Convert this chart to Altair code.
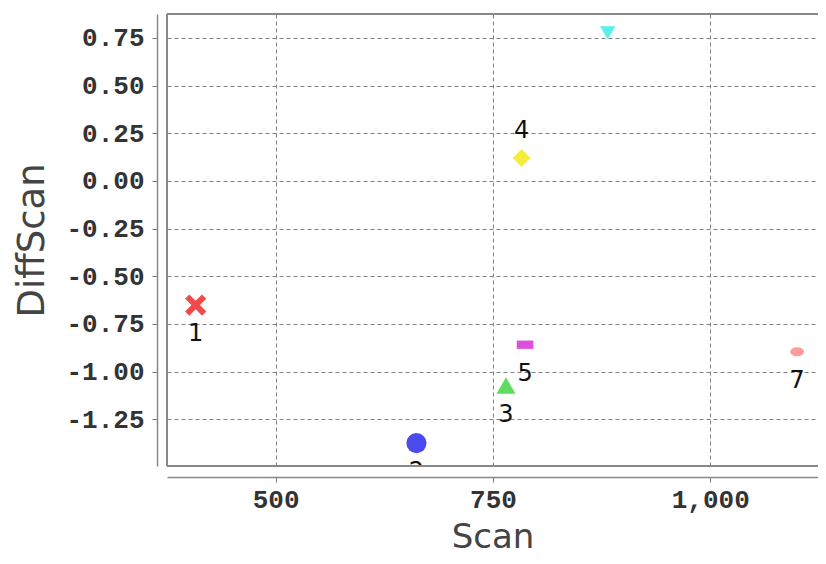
import altair as alt
import pandas as pd

# ---- data ----
labels = ["1", "2", "3", "4", "5", "6", "7"]
scan = [408, 662, 765, 783, 787, 882, 1100]
diff_scan = [-0.651, -1.375, -1.073, 0.12, -0.859, 0.776, -0.896]

x_ticks = [500, 750, 1000]
y_ticks = [0.75, 0.5, 0.25, 0.0, -0.25, -0.5, -0.75, -1.0, -1.25]

# ---- styles ----
colors = ["#f24a4a", "#4a4aee", "#5fdc5f", "#f6ec3c", "#dd4fdd", "#5aeeee", "#ff9c9c"]
x_path = "M-1,-0.6L-0.6,-1L0,-0.4L0.6,-1L1,-0.6L0.4,0L1,0.6L0.6,1L0,0.4L-0.6,1L-1,0.6L-0.4,0Z"
hrect = "M-1,-0.5H1V0.5H-1Z"
hellipse = "M-1,0A1,0.65 0 1,1 1,0A1,0.65 0 1,1 -1,0Z"
shapes = [x_path, "circle", "triangle-up", "diamond", hrect, "triangle-down", hellipse]
sizes = [450, 190, 190, 230, 340, 230, 320]
labels_above = ["4", "6"]

W, H = 651, 452

df = pd.DataFrame({"label": labels, "Scan": scan, "DiffScan": diff_scan})

x_scale = alt.Scale(domain=[375, 1124], nice=False, zero=False)
y_scale = alt.Scale(domain=[-1.495, 0.875], nice=False, zero=False)

grid_kw = dict(grid=True, gridColor="#808080", gridDash=[4, 3], gridWidth=1)

x_enc = alt.X(
    "Scan:Q", scale=x_scale,
    axis=alt.Axis(
        title="Scan", values=x_ticks, format=",d", offset=11,
        tickSize=5, tickColor="#777", domainColor="#888", domainWidth=1.5,
        labelFont="Liberation Mono", labelFontWeight="bold", labelFontSize=26,
        labelColor="#333", labelPadding=4,
        titleFont="DejaVu Sans", titleFontSize=34, titleFontWeight="normal",
        titleColor="#444", titlePadding=8, **grid_kw,
    ),
)
y_enc = alt.Y(
    "DiffScan:Q", scale=y_scale,
    axis=alt.Axis(
        title="DiffScan", values=y_ticks,
        labelExpr="replace(format(datum.value, '.2f'), '\u2212', '-')",
        offset=10, tickSize=5, tickColor="#777", domainColor="#888", domainWidth=1.5,
        labelFont="Liberation Mono", labelFontWeight="bold", labelFontSize=26,
        labelColor="#333", labelPadding=8,
        titleFont="DejaVu Sans", titleFontSize=37, titleFontWeight="normal",
        titleColor="#444", titlePadding=14, **grid_kw,
    ),
)

base = alt.Chart(df)

points = base.mark_point(filled=True, opacity=1, strokeWidth=0, clip=True).encode(
    x=x_enc,
    y=y_enc,
    color=alt.Color("label:N", scale=alt.Scale(domain=labels, range=colors), legend=None),
    shape=alt.Shape("label:N", scale=alt.Scale(domain=labels, range=shapes), legend=None),
    size=alt.Size("label:N", scale=alt.Scale(domain=labels, range=sizes), legend=None),
)

text_below = base.transform_filter(
    ~alt.FieldOneOfPredicate(field="label", oneOf=labels_above)
).mark_text(
    font="DejaVu Sans", fontSize=24, color="#111", baseline="middle", dy=29, clip=True
).encode(x=alt.X("Scan:Q", scale=x_scale), y=alt.Y("DiffScan:Q", scale=y_scale), text="label:N")

text_above = base.transform_filter(
    alt.FieldOneOfPredicate(field="label", oneOf=labels_above)
).mark_text(
    font="DejaVu Sans", fontSize=24, color="#111", baseline="middle", dy=-27, clip=True
).encode(x=alt.X("Scan:Q", scale=x_scale), y=alt.Y("DiffScan:Q", scale=y_scale), text="label:N")

# cover the right edge of the view (the reference plot continues past the picture)
right_cover = base.mark_rule(color="white", strokeWidth=4).encode(
    x=alt.value(W), y=alt.value(1), y2=alt.value(H - 1)
)

frame_style = dict(color="#888", strokeWidth=1.5)
frame_top = base.mark_rule(**frame_style).encode(x=alt.value(0), x2=alt.value(W + 10), y=alt.value(0))
frame_left = base.mark_rule(**frame_style).encode(x=alt.value(0), y=alt.value(0), y2=alt.value(H))
frame_bottom = base.mark_rule(**frame_style).encode(x=alt.value(0), x2=alt.value(W + 10), y=alt.value(H))

chart = (
    alt.layer(points, text_below, text_above, right_cover, frame_top, frame_left, frame_bottom)
    .properties(
        width=W, height=H,
        autosize=alt.AutoSizeParams(type="none"),
        padding={"left": 159, "top": 6, "right": 0, "bottom": 90},
        background="white",
    )
    .configure_view(stroke="#ffffff", strokeWidth=0)
)

chart.save("out.html", embed_options={"renderer": "svg", "actions": False})
